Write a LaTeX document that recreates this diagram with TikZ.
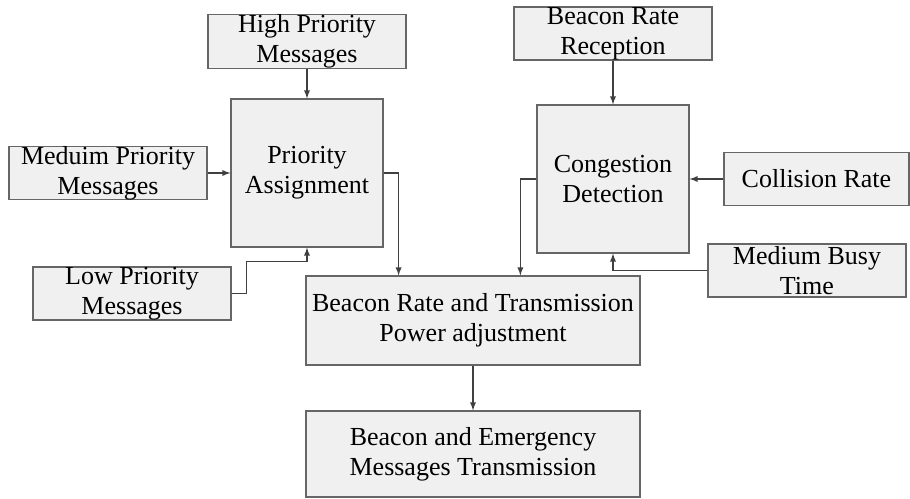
\documentclass[tikz,border=0pt]{standalone}
\usepackage{fontspec}
\setmainfont{Liberation Serif}
\usetikzlibrary{shapes.geometric, arrows}
\definecolor{boxfill}{HTML}{F0F0F0}
\definecolor{boxline}{HTML}{666666}
\tikzstyle{block} = [rectangle, draw=boxline, fill=boxfill, line width=0.7pt, inner sep=0pt, align=center, font=\fontsize{14.8pt}{17pt}\selectfont, minimum width=3.96cm, minimum height=1.06cm]
\tikzstyle{bigblock} = [block, minimum width=3.04cm, minimum height=2.96cm]
\tikzstyle{arrow} = [line width=0.6pt, draw=black!75, -latex]

\begin{document}
\begin{tikzpicture}[x=0.02cm, y=0.02cm, node distance=2.65cm]
    \useasboundingbox (0,0) rectangle (910,-498);

    \node (prio) [bigblock] at (307,-173) {Priority\\Assignment};
    \node (high) [block, above of=prio, yshift=-0.02cm] {High Priority\\Messages};
    \node (medium) [block, left of=prio, xshift=-1.33cm] {Meduim Priority\\Messages};
    \node (low) [block, left of=prio, xshift=-0.85cm, yshift=-2.41cm] {Low Priority\\Messages};

    \node (congestion) [bigblock] at (613,-179) {Congestion\\Detection};
    \node (reception) [block, above of=congestion, yshift=0.26cm] {Beacon Rate\\Reception};
    \node (collision) [block, right of=congestion, xshift=1.42cm, minimum width=3.7cm] {Collision Rate};
    \node (busy) [block, right of=congestion, xshift=1.23cm, yshift=-1.83cm] {Medium Busy\\Time};

    \node (adjust) [block, minimum width=6.68cm, minimum height=1.78cm] at (473,-320.5) {Beacon Rate and Transmission\\Power adjustment};
    \node (transmit) [block, below of=adjust, yshift=-0.02cm, minimum width=6.68cm, minimum height=1.72cm] {Beacon and Emergency\\Messages Transmission};

    \draw [arrow] (high) -- (prio);
    \draw [arrow] (medium) -- (prio);
    \draw [arrow] (low.east) -- ++(15,0) |- ([yshift=-0.28cm]prio.south) -- (prio.south);
    \draw [arrow] (prio.east) -- ++(15,0) coordinate (pa_out) -- (pa_out |- adjust.north);

    \draw [arrow] (reception) -- (congestion);
    \draw [arrow] (collision) -- (congestion);
    \draw [arrow] (busy.west) -| (congestion.south);
    \draw [arrow] (congestion.west) -- ++(-16,0) coordinate (cd_out) -- (cd_out |- adjust.north);

    \draw [arrow] (adjust) -- (transmit);

\end{tikzpicture}
\end{document}
